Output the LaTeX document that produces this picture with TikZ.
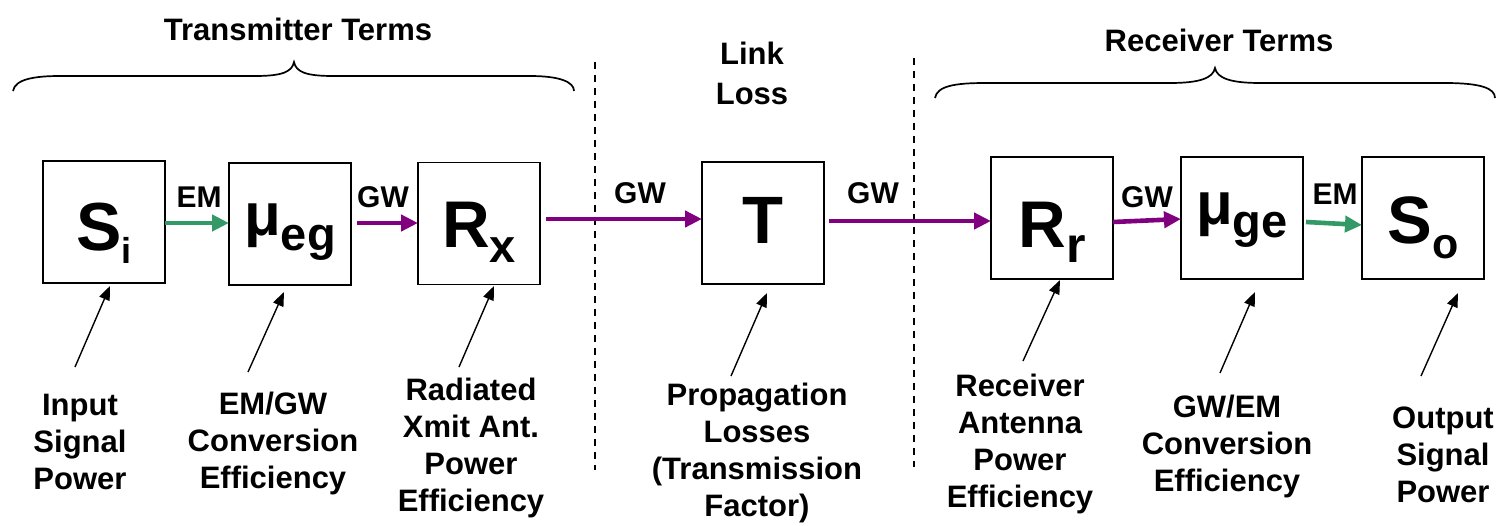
\documentclass[tikz,border=0pt]{standalone}
\usepackage{fontspec}
\setmainfont{Liberation Sans}
\usetikzlibrary{arrows.meta}
\definecolor{emgreen}{RGB}{51,153,102}
\definecolor{gwpurple}{RGB}{128,0,128}
\begin{document}
\begin{tikzpicture}[x=1pt,y=-1pt,
  blk/.style={draw, line width=1.6pt, minimum width=122pt, minimum height=122pt, inner sep=0pt, outer sep=0pt, font=\bfseries, text depth=0pt},
  emarrow/.style={draw=emgreen, line width=4.6pt, -{Triangle[length=17pt,width=16pt]}},
  gwarrow/.style={draw=gwpurple, line width=4.6pt, -{Triangle[length=17pt,width=16pt]}},
  ptr/.style={line width=1.4pt, -{Triangle[length=14pt,width=11pt]}},
  lbl/.style={font=\fontsize{31}{37}\selectfont\bfseries, align=center, inner sep=0pt},
  wlab/.style={font=\fontsize{30}{32}\selectfont\bfseries, inner sep=0pt},
  sepline/.style={line width=1.3pt, dash pattern=on 7pt off 6pt},
  brc/.style={line width=1.7pt}
]
\useasboundingbox (0,0) rectangle (1496,525);

% titles
\node[lbl] (ttx) at (298,29) {Transmitter Terms};
\node[lbl] (trx) at (1219,40) {Receiver Terms};
\node[lbl] (tlink) at (752,73) {Link\\[3pt]Loss};

% braces
\draw[brc] (13,91) .. controls (15,79) and (35,76) .. (60,76) -- (255,76)
  .. controls (282,76) and (292,72) .. (294,62)
  .. controls (296,72) and (306,76) .. (333,76) -- (530,76)
  .. controls (560,76) and (574,82) .. (574,91);
\draw[brc] (935,98) .. controls (937,86) and (955,83) .. (985,83) -- (1170,83)
  .. controls (1200,83) and (1213,78) .. (1215,68)
  .. controls (1217,78) and (1230,83) .. (1260,83) -- (1445,83)
  .. controls (1480,83) and (1495,88) .. (1495,98);

% separators
\coordinate (d1a) at (595,62);
\coordinate (d1b) at (595,470);
\coordinate (d2a) at (914,58);
\coordinate (d2b) at (914,467);
\draw[sepline] (d1a) -- (d1b);
\draw[sepline] (d2a) -- (d2b);

% boxes
\node[blk, text height=56pt] (si) at (104,222) {\fontsize{68}{68}\selectfont S\raisebox{-13pt}{\fontsize{36}{36}\selectfont i}\hspace{13pt}};
\node[blk, text height=22pt] (meg) at (290,224) {\fontsize{60}{60}\selectfont μ\raisebox{-15pt}{\fontsize{47}{47}\selectfont eg}};
\node[blk, text height=47pt] (rx) at (479,223.5) {\fontsize{66}{66}\selectfont R\raisebox{-15pt}{\fontsize{47}{47}\selectfont x}\hspace{9pt}};
\node[blk, text height=40pt] (t) at (763,223) {\fontsize{67}{67}\selectfont T};
\node[blk, text height=58pt] (rr) at (1052,218) {\fontsize{66}{66}\selectfont R\raisebox{-15pt}{\fontsize{50}{50}\selectfont r}\hspace{16pt}};
\node[blk, text height=12pt] (mge) at (1242,218) {\fontsize{60}{60}\selectfont μ\raisebox{-13pt}{\fontsize{47}{47}\selectfont ge}};
\node[blk, text height=50pt] (so) at (1423,218) {\fontsize{67}{67}\selectfont S\raisebox{-15pt}{\fontsize{43}{43}\selectfont o}\hspace{13pt}};

% signal arrows
\draw[emarrow] ([yshift=-1pt]si.east) -- ([yshift=1pt]meg.west);
\draw[gwarrow] ([xshift=6pt,yshift=1pt]meg.east) -- ([yshift=0.5pt]rx.west);
\draw[gwarrow] ([xshift=6pt,yshift=4.5pt]rx.east) -- ([yshift=4pt]t.west);
\draw[gwarrow] ([xshift=5pt,yshift=2pt]t.east) -- ([yshift=-3pt]rr.west);
\draw[gwarrow] ([yshift=-4pt]rr.east) -- ([yshift=-1pt]mge.west);
\draw[emarrow] ([xshift=3pt,yshift=-4pt]mge.east) -- ([yshift=-7pt]so.west);

% arrow labels
\node[wlab] (l1) at (199,197) {EM};
\node[wlab] (l2) at (383,197) {GW};
\node[wlab] (l3) at (640,193) {GW};
\node[wlab] (l4) at (873,193) {GW};
\node[wlab] (l5) at (1147,197) {GW};
\node[wlab] (l6) at (1335,194) {EM};

% descriptions
\node[lbl] (dsi) at (80,442) {Input\\Signal\\Power};
\node[lbl] (dmeg) at (273,443) {EM/GW\\Conversion\\Efficiency};
\node[lbl] (drx) at (471,448) {Radiated\\Xmit Ant.\\Power\\Efficiency};
\node[lbl] (dt) at (757,453) {Propagation\\Losses\\(Transmission\\Factor)};
\node[lbl] (drr) at (1020,444) {Receiver\\Antenna\\Power\\Efficiency};
\node[lbl] (dmge) at (1227,446) {GW/EM\\Conversion\\Efficiency};
\node[lbl] (dso) at (1443,455) {Output\\Signal\\Power};

% pointers
\coordinate (p1a) at (75,367);   \coordinate (p1b) at (110,286);
\coordinate (p2a) at (248,372);  \coordinate (p2b) at (284,292);
\coordinate (p3a) at (459,367);  \coordinate (p3b) at (494,286);
\coordinate (p4a) at (731,376);  \coordinate (p4b) at (767,293);
\coordinate (p5a) at (1023,361); \coordinate (p5b) at (1060,280);
\coordinate (p6a) at (1220,373); \coordinate (p6b) at (1255,292);
\coordinate (p7a) at (1421,376); \coordinate (p7b) at (1458,293);
\draw[ptr] (p1a) -- (p1b);
\draw[ptr] (p2a) -- (p2b);
\draw[ptr] (p3a) -- (p3b);
\draw[ptr] (p4a) -- (p4b);
\draw[ptr] (p5a) -- (p5b);
\draw[ptr] (p6a) -- (p6b);
\draw[ptr] (p7a) -- (p7b);
\end{tikzpicture}
\end{document}
